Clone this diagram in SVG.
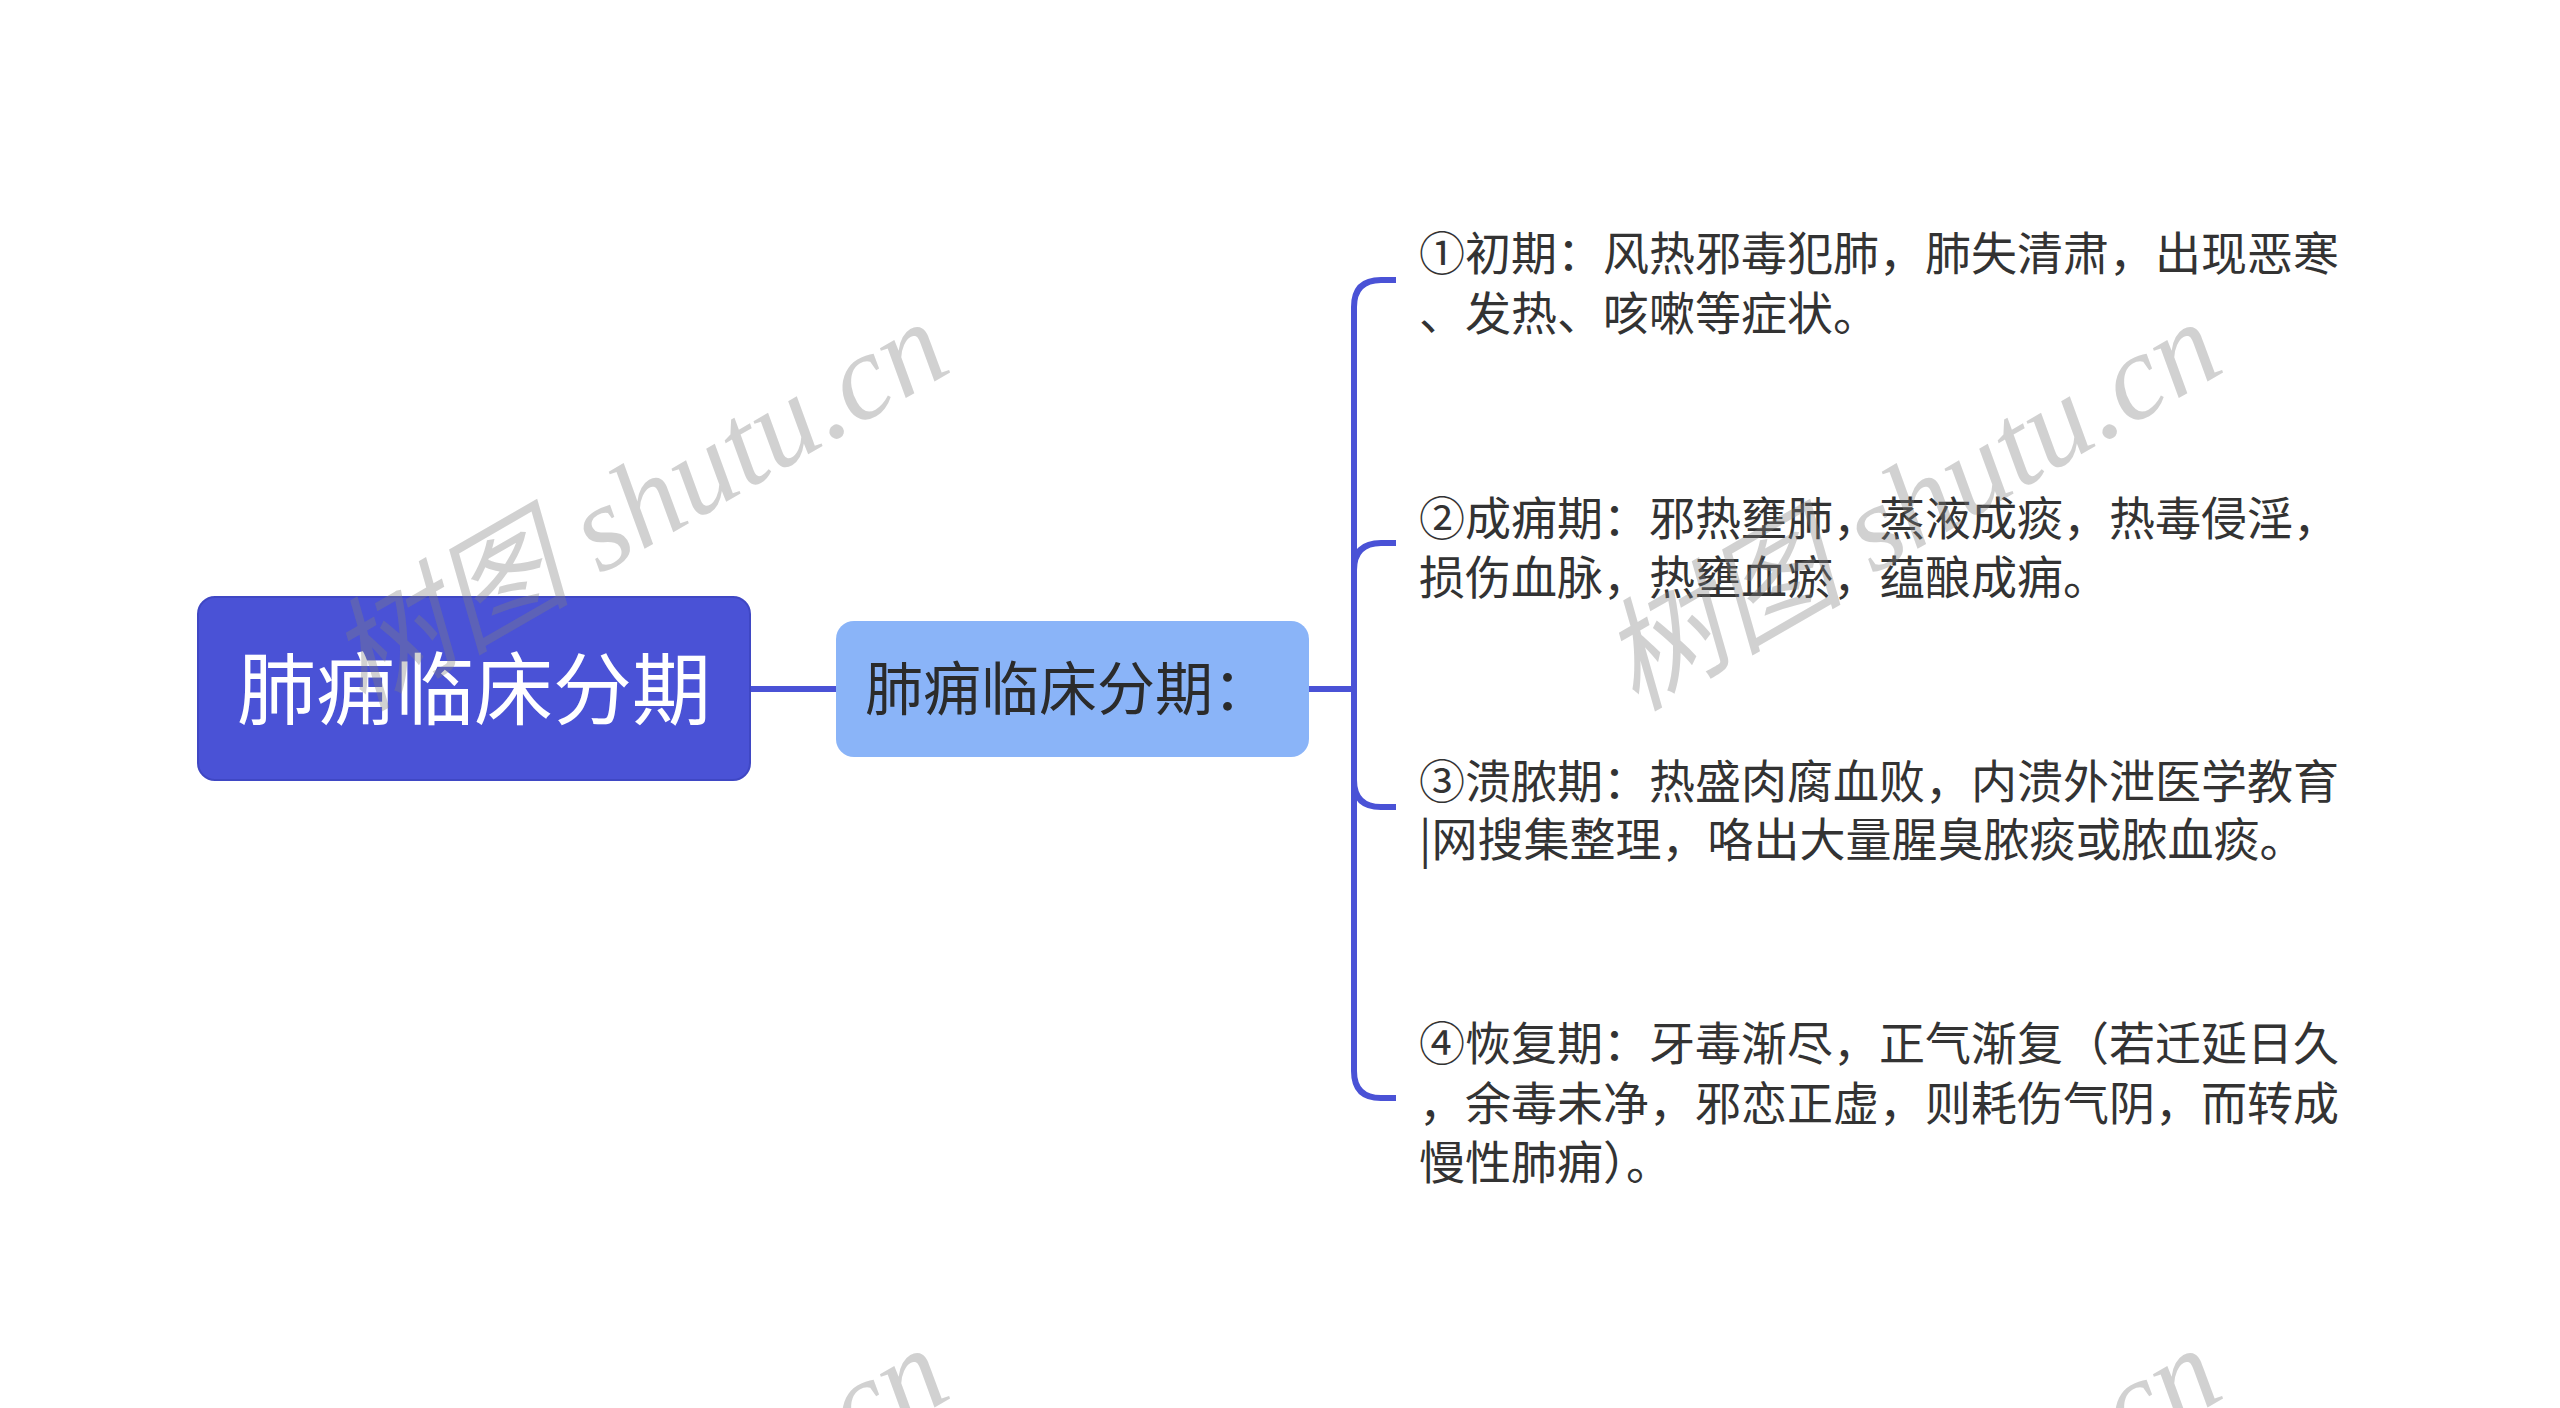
<svg xmlns="http://www.w3.org/2000/svg" width="2560" height="1408" viewBox="0 0 2560 1408">
<style>
.cjk{font-family:"Noto Sans CJK SC","Noto Sans",sans-serif;}
.topic{font-size:46px;fill:#333333;}
.conn{fill:none;stroke:#4a52d6;stroke-width:6;stroke-linecap:butt;stroke-linejoin:round;}
.wm{font-family:"Liberation Serif","Noto Sans CJK SC",serif;font-style:italic;font-size:122px;fill:#808080;fill-opacity:0.36;}
</style>
<rect width="2560" height="1408" fill="#ffffff"/>
<g id="connectors">
<path class="conn" d="M750 689 L836 689"/>
<path class="conn" d="M1309 689 L1354 689 L1354 307 Q1354 280 1381 280 L1396 280"/>
<path class="conn" d="M1354 689 L1354 570 Q1354 543 1381 543 L1396 543"/>
<path class="conn" d="M1354 689 L1354 780 Q1354 807 1381 807 L1396 807"/>
<path class="conn" d="M1354 689 L1354 1071 Q1354 1098 1381 1098 L1396 1098"/>
</g>
<g id="root">
<rect x="198" y="597" width="552" height="183" rx="17" fill="#4a52d6" stroke="#3f47c4" stroke-width="2"/>
<text class="cjk" x="474" y="719" font-size="79" fill="#ffffff" text-anchor="middle">肺痈临床分期</text>
</g>
<g id="sub">
<rect x="836" y="621" width="473" height="136" rx="18" fill="#8ab4f8"/>
<text class="cjk" x="865" y="710" font-size="58" fill="#2b2b2b">肺痈临床分期：</text>
</g>
<g id="topic1">
<text class="cjk topic" x="1419" y="270">①初期：风热邪毒犯肺，肺失清肃，出现恶寒</text>
<text class="cjk topic" x="1419" y="330">、发热、咳嗽等症状。</text>
</g>
<g id="topic2">
<text class="cjk topic" x="1419" y="535">②成痈期：邪热壅肺，蒸液成痰，热毒侵淫，</text>
<text class="cjk topic" x="1419" y="594">损伤血脉，热壅血瘀，蕴酿成痈。</text>
</g>
<g id="topic3">
<text class="cjk topic" x="1419" y="798">③溃脓期：热盛肉腐血败，内溃外泄医学教育</text>
<text class="cjk topic" x="1419" y="856">|网搜集整理，咯出大量腥臭脓痰或脓血痰。</text>
</g>
<g id="topic4">
<text class="cjk topic" x="1419" y="1060">④恢复期：牙毒渐尽，正气渐复（若迁延日久</text>
<text class="cjk topic" x="1419" y="1120">，余毒未净，邪恋正虚，则耗伤气阴，而转成</text>
<text class="cjk topic" x="1419" y="1179">慢性肺痈）。</text>
</g>
<g id="watermarks">
<text class="wm" transform="translate(362 712) rotate(-30)">树图 shutu.cn</text>
<text class="wm" transform="translate(1635 712) rotate(-30)">树图 shutu.cn</text>
<text class="wm" transform="translate(362 1738) rotate(-30)">树图 shutu.cn</text>
<text class="wm" transform="translate(1635 1738) rotate(-30)">树图 shutu.cn</text>
</g>
</svg>
